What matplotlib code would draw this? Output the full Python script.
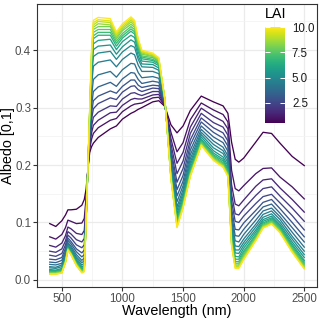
import numpy as np
import matplotlib
matplotlib.use("Agg")
import matplotlib.pyplot as plt
from matplotlib import cm, colors

plt.rcParams["font.family"] = ["Liberation Sans", "DejaVu Sans"]

wavelength = [400, 450, 500, 530, 550, 575, 620, 665, 685, 700, 715, 730, 745, 760,
              800, 900, 950, 1000, 1070, 1100, 1130, 1160, 1250, 1300, 1350, 1400,
              1450, 1500, 1560, 1650, 1750, 1830, 1870, 1900, 1930, 1960, 2000,
              2100, 2160, 2230, 2300, 2400, 2500]

lai = [0.5, 1.0, 1.5, 2.0, 2.5, 3.0, 3.5, 4.0, 4.5, 5.0,
       5.5, 6.0, 6.5, 7.0, 7.5, 8.0, 8.5, 9.0, 9.5, 10.0]

# albedo, one list per LAI value
albedo_lai_0_5 = [.098, .093, .103, .113, .122, .122, .123, .130, .140, .158, .193, .222, .232, .238, .248, .263, .268, .280, .290, .293, .297, .300, .310, .312, .302, .270, .256, .268, .295, .320, .310, .303, .290, .240, .210, .205, .212, .240, .257, .255, .238, .215, .199]
albedo_lai_1_0 = [.075, .071, .079, .091, .104, .102, .098, .099, .107, .143, .194, .228, .245, .255, .265, .278, .281, .293, .303, .306, .307, .308, .317, .318, .303, .257, .223, .239, .279, .308, .296, .288, .275, .191, .159, .155, .164, .185, .194, .195, .179, .162, .141]
albedo_lai_1_5 = [.060, .057, .064, .077, .092, .089, .081, .079, .086, .133, .194, .233, .256, .269, .278, .291, .292, .304, .314, .316, .315, .315, .322, .323, .304, .246, .203, .222, .266, .299, .285, .276, .263, .166, .132, .129, .139, .163, .174, .176, .160, .140, .118]
albedo_lai_2_0 = [.050, .048, .054, .068, .084, .080, .070, .066, .072, .127, .195, .238, .267, .283, .292, .303, .302, .315, .325, .326, .323, .321, .328, .328, .305, .237, .185, .207, .255, .290, .274, .266, .252, .150, .115, .113, .124, .147, .159, .162, .146, .125, .102]
albedo_lai_2_5 = [.043, .041, .046, .061, .078, .073, .061, .056, .061, .122, .195, .244, .279, .298, .307, .317, .314, .327, .337, .338, .331, .328, .334, .333, .306, .228, .170, .194, .244, .282, .265, .256, .242, .137, .102, .100, .111, .133, .145, .149, .134, .112, .087]
albedo_lai_3_0 = [.036, .035, .039, .055, .073, .067, .054, .047, .052, .117, .195, .249, .290, .312, .320, .329, .325, .337, .348, .348, .339, .335, .339, .338, .306, .221, .157, .182, .235, .275, .257, .247, .233, .125, .088, .087, .099, .121, .135, .140, .124, .100, .075]
albedo_lai_3_5 = [.031, .030, .034, .050, .069, .063, .049, .040, .044, .114, .196, .255, .303, .328, .336, .344, .337, .350, .361, .360, .349, .342, .346, .344, .307, .213, .146, .172, .226, .268, .249, .239, .224, .114, .077, .076, .088, .113, .127, .132, .116, .091, .066]
albedo_lai_4_0 = [.027, .026, .029, .046, .065, .059, .044, .034, .038, .111, .196, .263, .319, .349, .357, .363, .353, .366, .377, .376, .361, .352, .354, .351, .309, .206, .136, .164, .218, .262, .242, .231, .216, .105, .068, .066, .079, .104, .120, .125, .110, .083, .057]
albedo_lai_4_5 = [.023, .022, .026, .043, .063, .056, .040, .030, .033, .109, .196, .271, .337, .372, .379, .383, .371, .384, .395, .392, .374, .363, .363, .359, .310, .201, .127, .157, .211, .257, .236, .225, .210, .097, .059, .058, .071, .097, .114, .120, .105, .076, .050]
albedo_lai_5_0 = [.021, .020, .023, .040, .060, .053, .037, .026, .029, .107, .196, .277, .350, .389, .395, .398, .384, .397, .408, .405, .384, .371, .370, .365, .311, .196, .121, .151, .205, .253, .230, .220, .204, .091, .052, .052, .065, .092, .109, .115, .100, .071, .044]
albedo_lai_5_5 = [.018, .017, .020, .038, .058, .051, .034, .023, .025, .105, .197, .281, .360, .401, .407, .409, .393, .406, .418, .414, .390, .376, .375, .369, .312, .191, .115, .146, .200, .249, .225, .214, .199, .085, .047, .046, .060, .087, .105, .111, .096, .066, .039]
albedo_lai_6_0 = [.016, .016, .018, .036, .057, .050, .032, .020, .023, .104, .197, .285, .368, .411, .417, .419, .401, .415, .426, .422, .397, .381, .379, .373, .313, .187, .110, .141, .195, .245, .221, .210, .194, .080, .041, .040, .055, .083, .102, .108, .093, .062, .034]
albedo_lai_6_5 = [.015, .015, .017, .035, .056, .048, .030, .019, .021, .103, .197, .288, .375, .420, .426, .426, .407, .421, .433, .428, .402, .385, .382, .376, .313, .185, .106, .138, .192, .243, .218, .207, .191, .075, .036, .036, .050, .079, .099, .106, .091, .059, .031]
albedo_lai_7_0 = [.014, .013, .016, .033, .055, .047, .029, .017, .019, .102, .197, .290, .379, .425, .431, .431, .412, .425, .437, .432, .405, .388, .384, .378, .313, .182, .102, .135, .189, .241, .216, .204, .188, .072, .032, .032, .047, .077, .097, .104, .089, .056, .028]
albedo_lai_7_5 = [.013, .012, .015, .033, .054, .046, .028, .016, .018, .102, .197, .292, .383, .431, .436, .436, .416, .429, .441, .436, .408, .390, .387, .380, .314, .180, .099, .132, .186, .239, .214, .202, .186, .069, .029, .029, .044, .074, .095, .102, .087, .054, .026]
albedo_lai_8_0 = [.012, .012, .014, .032, .054, .046, .027, .015, .017, .101, .197, .294, .387, .436, .441, .441, .420, .434, .445, .440, .411, .393, .389, .381, .314, .179, .097, .130, .185, .237, .212, .200, .184, .066, .026, .026, .041, .073, .094, .101, .086, .053, .024]
albedo_lai_8_5 = [.011, .011, .013, .031, .053, .045, .027, .014, .016, .101, .198, .296, .391, .440, .446, .444, .423, .437, .449, .443, .413, .395, .390, .383, .314, .178, .095, .129, .183, .236, .211, .199, .183, .064, .024, .024, .039, .071, .093, .099, .084, .051, .022]
albedo_lai_9_0 = [.011, .011, .013, .031, .053, .045, .026, .013, .015, .101, .198, .297, .394, .444, .450, .448, .426, .440, .452, .446, .416, .397, .392, .384, .315, .177, .094, .127, .182, .235, .210, .198, .182, .063, .023, .023, .038, .070, .092, .098, .083, .050, .021]
albedo_lai_9_5 = [.010, .010, .012, .030, .052, .044, .025, .013, .015, .100, .198, .298, .397, .448, .453, .451, .429, .443, .455, .449, .418, .398, .393, .386, .315, .176, .092, .126, .181, .235, .209, .197, .181, .061, .021, .021, .036, .069, .091, .098, .083, .049, .020]
albedo_lai_10_0 = [.010, .010, .012, .030, .052, .044, .025, .012, .014, .100, .198, .300, .400, .452, .457, .455, .432, .446, .458, .452, .420, .400, .395, .387, .315, .175, .091, .125, .180, .234, .208, .196, .180, .060, .020, .020, .035, .068, .090, .097, .082, .048, .019]

curves = [albedo_lai_0_5, albedo_lai_1_0, albedo_lai_1_5, albedo_lai_2_0, albedo_lai_2_5,
          albedo_lai_3_0, albedo_lai_3_5, albedo_lai_4_0, albedo_lai_4_5, albedo_lai_5_0,
          albedo_lai_5_5, albedo_lai_6_0, albedo_lai_6_5, albedo_lai_7_0, albedo_lai_7_5,
          albedo_lai_8_0, albedo_lai_8_5, albedo_lai_9_0, albedo_lai_9_5, albedo_lai_10_0]

x_ticks = [500, 1000, 1500, 2000, 2500]
y_ticks = [0.0, 0.1, 0.2, 0.3, 0.4]
cbar_ticks = [2.5, 5.0, 7.5, 10.0]

W, H = 320, 320
fig = plt.figure(figsize=(3.2, 3.2), dpi=100)
ax = fig.add_axes([37 / W, 33 / H, 280 / W, 283 / H])

norm = colors.Normalize(vmin=min(lai), vmax=max(lai))
cmap = matplotlib.colormaps["viridis"]

for k, (val, curve) in enumerate(zip(lai, curves)):
    ax.plot(wavelength, curve, color=cmap(norm(val)), lw=0.95, zorder=3 + k,
            solid_joinstyle="round")

# ggplot-like 5% expansion
xr = max(wavelength) - min(wavelength)
ax.set_xlim(min(wavelength) - 0.05 * xr, max(wavelength) + 0.05 * xr)
all_vals = np.concatenate([np.array(c) for c in curves])
yr = all_vals.max() - all_vals.min()
ax.set_ylim(all_vals.min() - 0.05 * yr, all_vals.max() + 0.05 * yr)

ax.set_xticks(x_ticks)
ax.set_xticks([750, 1250, 1750, 2250], minor=True)
ax.set_yticks(y_ticks)
ax.set_yticks([0.05, 0.15, 0.25, 0.35, 0.45], minor=True)
ax.set_yticklabels([f"{v:.1f}" for v in y_ticks])

ax.grid(which="major", color="#EBEBEB", lw=0.9, zorder=0)
ax.grid(which="minor", color="#F2F2F2", lw=0.5, zorder=0)
ax.set_axisbelow(True)
for s in ax.spines.values():
    s.set_color("#333333")
    s.set_linewidth(0.8)
ax.tick_params(which="major", length=2.8, width=0.8, color="#333333",
               labelsize=8.3, labelcolor="#4D4D4D", pad=1.5)
ax.tick_params(which="minor", length=0)

ax.set_xlabel("Wavelength (nm)", fontsize=10.4, va="center")
ax.set_ylabel("Albedo [0,1]", fontsize=10.4)
ax.xaxis.set_label_coords(0.5, -0.085)
ax.yaxis.set_label_coords(-0.078, 0.5)

# colour bar legend inside the panel
cax = fig.add_axes([265 / W, 1 - 123 / H, 20 / W, 96 / H])
sm = cm.ScalarMappable(norm=norm, cmap=cmap)
cb = fig.colorbar(sm, cax=cax, ticks=cbar_ticks)
cb.outline.set_visible(False)
cb.ax.set_yticklabels([f"{v:.1f}" for v in cbar_ticks])
cb.ax.tick_params(direction="in", length=3.5, width=0.7, color="white",
                  left=True, right=True, labelsize=8.3, labelcolor="#1A1A1A", pad=5)
fig.text(265 / W, 1 - 14 / H, "LAI", fontsize=10.4, va="center", ha="left")

fig.savefig("out.png", dpi=100)
